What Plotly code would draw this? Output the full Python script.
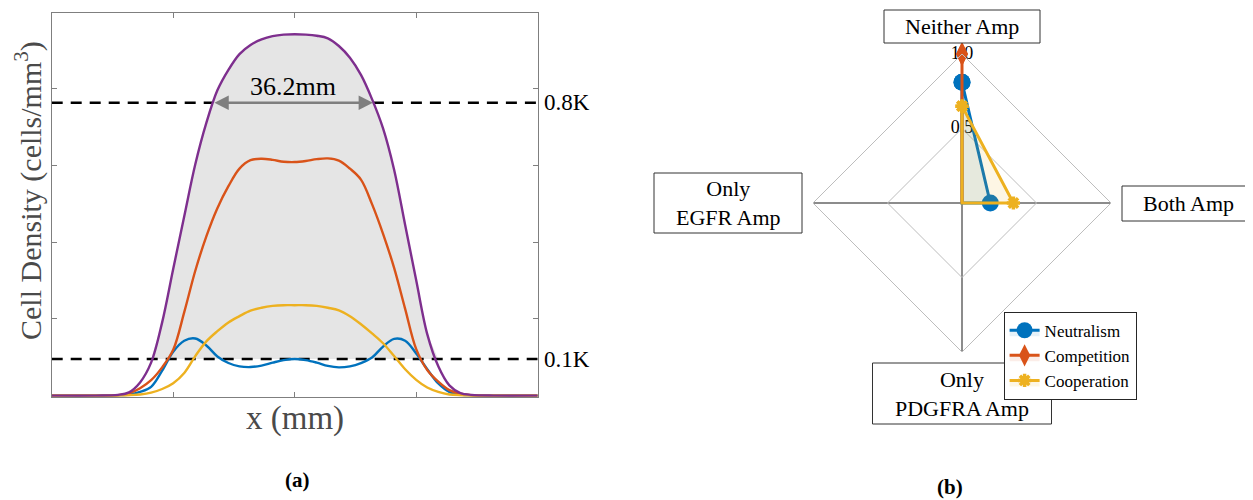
import numpy as np
import plotly.graph_objects as go

# ---------------- Panel (a): density profiles ----------------
x_mm = [-55, -45, -40, -37.5, -35, -32.5, -30, -27.5, -25, -22.5, -20, -17.5, -15, -12.5,
        -10, -7.5, -5, -2.5, 0, 2.5, 5, 7.5, 10, 12.5, 15, 17.5, 20, 22.5, 25, 27.5,
        30, 32.5, 35, 37.5, 40, 45, 55]

density_total = [0, 0, 0.002, 0.009, 0.036, 0.09, 0.2, 0.346, 0.49, 0.632, 0.745, 0.834,
                 0.89, 0.933, 0.958, 0.973, 0.982, 0.986, 0.987, 0.986, 0.983, 0.976, 0.955,
                 0.923, 0.876, 0.81, 0.73, 0.617, 0.466, 0.315, 0.168, 0.08, 0.028, 0.007,
                 0.002, 0, 0]
density_orange = [0, 0, 0.001, 0.006, 0.02, 0.042, 0.077, 0.125, 0.228, 0.341, 0.435, 0.512,
                  0.572, 0.62, 0.643, 0.647, 0.644, 0.639, 0.638, 0.641, 0.646, 0.648, 0.642,
                  0.62, 0.59, 0.523, 0.442, 0.349, 0.237, 0.127, 0.07, 0.038, 0.015, 0.005,
                  0.001, 0, 0]
density_blue = [0, 0, 0.001, 0.003, 0.01, 0.024, 0.068, 0.12, 0.15, 0.156, 0.137, 0.107,
                0.089, 0.08, 0.078, 0.082, 0.09, 0.097, 0.1, 0.097, 0.09, 0.081, 0.077, 0.08,
                0.089, 0.104, 0.134, 0.155, 0.15, 0.115, 0.072, 0.033, 0.01, 0.003, 0.001, 0, 0]
density_yellow = [0, 0, 0, 0.001, 0.003, 0.008, 0.018, 0.034, 0.062, 0.108, 0.148, 0.176,
                  0.2, 0.217, 0.232, 0.24, 0.245, 0.247, 0.247, 0.247, 0.245, 0.24, 0.233,
                  0.217, 0.195, 0.17, 0.143, 0.108, 0.072, 0.043, 0.022, 0.01, 0.003, 0.001,
                  0, 0, 0]

threshold_levels = [0.1, 0.8]
threshold_labels = ["0.1K", "0.8K"]
width_edges = [-18.5, 17.7]
width_label = "36.2mm"

x_range = [-55, 55]
x_ticks = [-27.5, 0, 27.5]
y_range = [-0.003, 1.046]
y_ticks = [0.2105, 0.4195, 0.629, 0.838]

# ---------------- Panel (b): radar ----------------
categories = ["Neither Amp", "Both Amp", "Only PDGFRA Amp", "Only EGFR Amp"]
category_labels = ["Neither Amp", "Both Amp", "Only<br>PDGFRA Amp", "Only<br>EGFR Amp"]
series_names = ["Neutralism", "Competition", "Cooperation"]
neutralism = [0.81, 0.19, 0.0, 0.0]
competition = [1.0, 0.0, 0.0, 0.0]
cooperation = [0.65, 0.345, 0.0, 0.0]
radial_ticks = [0.0, 0.5, 1.0]
radial_tick_labels = ["0.0", "0.5", "1.0"]

BLUE, ORANGE, YELLOW, PURPLE = "#0072BD", "#D95319", "#EDB120", "#7E2F8E"
SERIF = "Liberation Serif, Times New Roman, serif"

# the page body keeps an 8px margin, so the figure is 8px smaller than the window
OFF = 8
FW, FH = 1253 - OFF, 500 - OFF


def px(xp):
    return (xp - OFF) / FW


def py(yp):
    return 1 - (yp - OFF) / FH


fig = go.Figure()

# gray band between 0.1K and the total profile
fill_top = np.maximum(np.array(density_total), threshold_levels[0])
fig.add_trace(go.Scatter(x=x_mm, y=[threshold_levels[0]] * len(x_mm), mode="lines",
                         line=dict(width=0), hoverinfo="skip", showlegend=False))
fig.add_trace(go.Scatter(x=x_mm, y=fill_top, mode="lines", line=dict(width=0),
                         fill="tonexty", fillcolor="#e5e5e5", hoverinfo="skip",
                         showlegend=False))

dash_style = dict(color="black", width=2.6, dash="11px,8px")
fig.add_trace(go.Scatter(x=x_range, y=[threshold_levels[0]] * 2, mode="lines",
                         line=dash_style, showlegend=False))
fig.add_trace(go.Scatter(x=[x_range[0], width_edges[0]], y=[threshold_levels[1]] * 2,
                         mode="lines", line=dash_style, showlegend=False))
fig.add_trace(go.Scatter(x=[width_edges[1], x_range[1]], y=[threshold_levels[1]] * 2,
                         mode="lines", line=dash_style, showlegend=False))

for ys, col in [(density_blue, BLUE), (density_orange, ORANGE),
                (density_yellow, YELLOW), (density_total, PURPLE)]:
    fig.add_trace(go.Scatter(x=x_mm, y=ys, mode="lines",
                             line=dict(color=col, width=2.4, shape="spline", smoothing=1.0),
                             showlegend=False))

# radar: radial tick labels along the first spoke
fig.add_trace(go.Scatterpolar(r=radial_ticks, theta=[categories[0]] * len(radial_ticks),
                              mode="text", text=radial_tick_labels,
                              textfont=dict(family=SERIF, size=18, color="black"),
                              showlegend=False, hoverinfo="skip"))

radar_specs = [
    (series_names[0], neutralism, BLUE, "rgba(0,114,189,0.10)",
     dict(symbol="circle", size=17, color=BLUE)),
    (series_names[1], competition, ORANGE, "rgba(217,83,25,0.10)",
     dict(symbol="diamond-tall", size=17, color=ORANGE)),
    (series_names[2], cooperation, YELLOW, "rgba(237,177,32,0.12)",
     dict(symbol="asterisk-open", size=11, color=YELLOW, line=dict(width=3.5, color=YELLOW))),
]
for name, vals, col, fcol, mk in radar_specs:
    fig.add_trace(go.Scatterpolar(r=vals + [vals[0]], theta=categories + [categories[0]],
                                  mode="lines+markers", name=name, fill="toself",
                                  fillcolor=fcol, line=dict(color=col, width=3),
                                  marker=mk))

annotations = []
shapes = []
# axis titles
annotations.append(dict(text="Cell Density (cells/mm<sup>3</sup>)", textangle=-90,
                        xref="paper", yref="paper", x=px(28), y=py(191),
                        xanchor="center", yanchor="middle", showarrow=False,
                        font=dict(family=SERIF, size=30, color="#4a4a4a")))
annotations.append(dict(text="x (mm)", xref="x domain", yref="paper", x=0.5, y=py(418),
                        xanchor="center", yanchor="middle", showarrow=False,
                        font=dict(family=SERIF, size=33, color="#4a4a4a")))
# threshold labels
for lv, lab in zip(threshold_levels, threshold_labels):
    annotations.append(dict(text=lab, xref="x domain", yref="y", x=1, y=lv, xanchor="left",
                            yanchor="middle", xshift=4, showarrow=False,
                            font=dict(family=SERIF, size=23, color="black")))
# width arrow + label
annotations.append(dict(text="", xref="x", yref="y", axref="x", ayref="y",
                        x=width_edges[1], y=threshold_levels[1],
                        ax=width_edges[0], ay=threshold_levels[1],
                        showarrow=True, arrowhead=2, arrowside="end+start", arrowsize=1.1,
                        arrowwidth=2.6, arrowcolor="#7f7f7f", standoff=0, startstandoff=0))
annotations.append(dict(text=width_label, xref="x", yref="y",
                        x=float(np.mean(width_edges)), y=threshold_levels[1],
                        xanchor="center", yanchor="bottom", yshift=0, showarrow=False,
                        font=dict(family=SERIF, size=26, color="black")))
# radar category boxes (frames as shapes so the legend sits over them)
box_geom = [(962, 26.5, 156, 33), (1188, 203.5, 132, 35), (962, 393.5, 179, 61),
            (728, 203, 148, 60)]
for lab, (cx, cy, bw, bh) in zip(category_labels, box_geom):
    shapes.append(dict(type="rect", xref="paper", yref="paper",
                       x0=px(cx - bw / 2), x1=px(cx + bw / 2),
                       y0=py(cy + bh / 2), y1=py(cy - bh / 2),
                       line=dict(color="#333333", width=1), fillcolor="white",
                       layer="above"))
    annotations.append(dict(text=lab, xref="paper", yref="paper", x=px(cx), y=py(cy),
                            xanchor="center", yanchor="middle", showarrow=False,
                            align="center",
                            font=dict(family=SERIF, size=22, color="black")))
# panel captions
annotations.append(dict(text="<b>(a)</b>", xref="paper", yref="paper", x=px(297),
                        y=py(480), showarrow=False, xanchor="center", yanchor="middle",
                        font=dict(family=SERIF, size=21, color="black")))
annotations.append(dict(text="<b>(b)</b>", xref="paper", yref="paper", x=px(950),
                        y=py(487), showarrow=False, xanchor="center", yanchor="middle",
                        font=dict(family=SERIF, size=21, color="black")))

axis_color = "#7f7f7f"
fig.update_layout(
    width=FW, height=FH, margin=dict(l=0, r=0, t=0, b=0),
    paper_bgcolor="white", plot_bgcolor="white",
    xaxis=dict(domain=[px(51.7), px(537.7)], range=x_range, tickvals=x_ticks,
               showticklabels=False, ticks="inside", ticklen=5, tickcolor=axis_color,
               showline=True, linecolor=axis_color, linewidth=1, mirror="ticks",
               showgrid=False, zeroline=False),
    yaxis=dict(domain=[py(396.7), py(12.7)], range=y_range, tickvals=y_ticks,
               showticklabels=False, ticks="inside", ticklen=5, tickcolor=axis_color,
               showline=True, linecolor=axis_color, linewidth=1, mirror="ticks",
               showgrid=False, zeroline=False),
    polar=dict(
        domain=dict(x=[px(813), px(1111)], y=[py(352), py(54)]),
        gridshape="linear", bgcolor="rgba(0,0,0,0)",
        radialaxis=dict(range=[0, 1], tickvals=[0.5, 1.0], showticklabels=False, ticks="",
                        showline=False, gridcolor="#bdbdbd", gridwidth=1),
        angularaxis=dict(rotation=90, direction="clockwise", categoryorder="array",
                         categoryarray=categories, showticklabels=False, ticks="",
                         showline=True, linecolor="#bdbdbd", linewidth=1,
                         gridcolor="#8c8c8c", gridwidth=2),
    ),
    legend=dict(x=px(1003.6), y=py(311.7), xanchor="left", yanchor="top",
                bgcolor="white", bordercolor="#262626", borderwidth=1,
                traceorder="normal",
                font=dict(family=SERIF, size=17, color="black"), tracegroupgap=0),
    annotations=annotations,
    shapes=shapes,
    showlegend=True,
)

fig.write_html("out.html")
